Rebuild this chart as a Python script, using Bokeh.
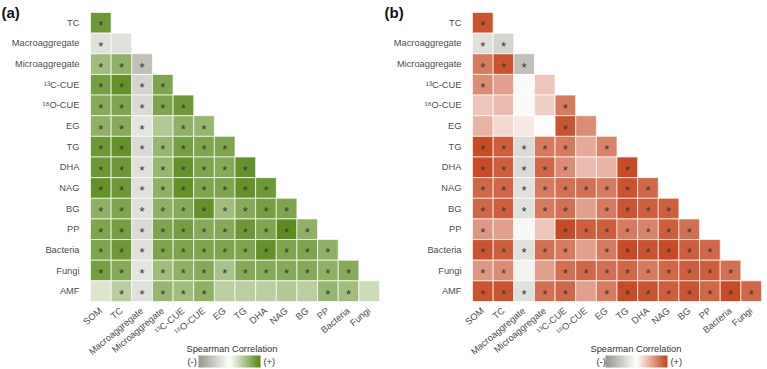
import math
from bokeh.plotting import figure
from bokeh.models import (ColumnDataSource, LinearColorMapper, ColorBar,
                          FactorRange, FixedTicker)
from bokeh.layouts import row
from bokeh.embed import file_html
from bokeh.resources import INLINE
from bokeh.core.properties import value

# ---------------- data ----------------
row_labels = ["TC", "Macroaggregate", "Microaggregate", "¹³C-CUE", "¹⁸O-CUE", "EG", "TG",
              "DHA", "NAG", "BG", "PP", "Bacteria", "Fungi", "AMF"]
col_labels = ["SOM", "TC", "Macroaggregate", "Microaggregate", "¹³C-CUE", "¹⁸O-CUE", "EG",
              "TG", "DHA", "NAG", "BG", "PP", "Bacteria", "Fungi"]

# panel (a): lower-triangle Spearman correlations (row i has i+1 values)
corr_a = [
    [0.85],
    [-0.3, -0.3],
    [0.55, 0.65, -0.6],
    [0.8, 0.9, -0.4, 0.75],
    [0.7, 0.75, -0.35, 0.75, 0.85],
    [0.65, 0.7, -0.25, 0.45, 0.65, 0.6],
    [0.85, 0.9, -0.35, 0.6, 0.8, 0.75, 0.75],
    [0.85, 0.85, -0.3, 0.6, 0.9, 0.75, 0.7, 0.9],
    [0.9, 0.85, -0.3, 0.65, 0.9, 0.75, 0.75, 0.9, 0.85],
    [0.65, 0.75, -0.3, 0.65, 0.7, 0.9, 0.55, 0.7, 0.8, 0.75],
    [0.75, 0.8, -0.35, 0.75, 0.8, 0.7, 0.7, 0.85, 0.75, 0.95, 0.65],
    [0.75, 0.85, -0.3, 0.75, 0.75, 0.75, 0.75, 0.75, 0.9, 0.75, 0.75, 0.65],
    [0.8, 0.7, -0.25, 0.55, 0.65, 0.7, 0.5, 0.7, 0.7, 0.7, 0.7, 0.65, 0.7],
    [0.2, 0.4, -0.3, 0.6, 0.55, 0.65, 0.4, 0.4, 0.4, 0.45, 0.4, 0.6, 0.55, 0.3],
]
sig_a = [
    [1],
    [1, 0],
    [1, 1, 1],
    [1, 1, 1, 1],
    [1, 1, 1, 1, 1],
    [1, 1, 1, 0, 1, 1],
    [1, 1, 1, 1, 1, 1, 1],
    [1, 1, 1, 1, 1, 1, 1, 1],
    [1, 1, 1, 1, 1, 1, 1, 1, 1],
    [1, 1, 1, 1, 1, 1, 1, 1, 1, 1],
    [1, 1, 1, 1, 1, 1, 1, 1, 1, 1, 1],
    [1, 1, 1, 1, 1, 1, 1, 1, 1, 1, 1, 1],
    [1, 1, 1, 1, 1, 1, 1, 1, 1, 1, 1, 1, 1],
    [0, 1, 1, 1, 1, 1, 0, 0, 0, 0, 0, 1, 1, 0],
]

# panel (b)
corr_b = [
    [0.9],
    [-0.3, -0.4],
    [0.7, 0.9, -0.6],
    [0.6, 0.5, -0.05, 0.3],
    [0.3, 0.35, -0.05, 0.25, 0.7],
    [0.4, 0.2, 0.12, 0.0, 0.9, 0.6],
    [0.95, 0.85, -0.35, 0.7, 0.7, 0.45, 0.65],
    [0.95, 0.85, -0.35, 0.8, 0.6, 0.35, 0.4, 0.95],
    [0.8, 0.8, -0.3, 0.7, 0.75, 0.75, 0.7, 0.9, 0.8],
    [0.8, 0.85, -0.3, 0.7, 0.75, 0.5, 0.7, 0.9, 0.85, 0.85],
    [0.55, 0.5, -0.08, 0.3, 0.95, 0.85, 0.85, 0.7, 0.65, 0.85, 0.75],
    [0.9, 0.85, -0.3, 0.75, 0.7, 0.5, 0.7, 0.95, 0.9, 0.95, 0.85, 0.8],
    [0.55, 0.6, -0.12, 0.5, 0.75, 0.8, 0.75, 0.8, 0.7, 0.8, 0.85, 0.85, 0.75],
    [0.9, 0.9, -0.3, 0.75, 0.8, 0.5, 0.7, 0.95, 0.9, 0.85, 0.9, 0.8, 0.95, 0.8],
]
sig_b = [
    [1],
    [1, 1],
    [1, 1, 1],
    [1, 0, 0, 0],
    [0, 0, 0, 0, 1],
    [0, 0, 0, 0, 1, 0],
    [1, 1, 1, 1, 1, 0, 1],
    [1, 1, 1, 1, 1, 0, 0, 1],
    [1, 1, 1, 1, 1, 1, 1, 1, 1],
    [1, 1, 1, 1, 1, 0, 1, 1, 1, 1],
    [1, 0, 0, 0, 1, 1, 1, 1, 1, 1, 1],
    [1, 1, 1, 1, 1, 0, 1, 1, 1, 1, 1, 1],
    [1, 1, 0, 0, 1, 1, 1, 1, 1, 1, 1, 1, 1],
    [1, 1, 1, 1, 1, 0, 1, 1, 1, 1, 1, 1, 1, 1],
]

legend_title = "Spearman Correlation"
legend_low, legend_high = "(-)", "(+)"

FONT = "Liberation Sans"


def make_palette(neg, pos, n=255):
    out = []
    for i in range(n):
        v = -1 + 2 * i / (n - 1)
        end = neg if v < 0 else pos
        t = abs(v)
        c = [round(255 + (e - 255) * t) for e in end]
        out.append("#%02x%02x%02x" % tuple(c))
    return out


def outside_text(p, text, x, y, size, bold=False, color="#333333"):
    # a 1-px white colour bar whose title carries the text (renders outside the frame)
    blank = LinearColorMapper(palette=["#ffffff"], low=0, high=1)
    cb = ColorBar(color_mapper=blank, orientation="horizontal", width=1, height=1,
                  location=(x, y), padding=0,
                  ticker=FixedTicker(ticks=[]), major_label_text_font_size="0px",
                  major_tick_line_color=None, bar_line_color=None,
                  border_line_color=None, background_fill_alpha=0,
                  title=text, title_standoff=0, title_text_font=FONT,
                  title_text_font_size=size,
                  title_text_font_style="bold" if bold else "normal",
                  title_text_color=color)
    p.add_layout(cb, "center")


def build(corr, sig, pos_color, tag, left_border, right_border, leg):
    xs, ys, vs, sx, sy, st = [], [], [], [], [], []
    for i, r in enumerate(row_labels):
        for j, v in enumerate(corr[i]):
            xs.append(col_labels[j]); ys.append(r); vs.append(v)
            if sig[i][j]:
                sx.append(col_labels[j]); sy.append(r); st.append("*")
    mapper = LinearColorMapper(palette=make_palette((150, 150, 138), pos_color), low=-1, high=1)

    p = figure(x_range=FactorRange(*col_labels), y_range=FactorRange(*reversed(row_labels)),
               frame_width=289, frame_height=289,
               min_border_left=left_border, min_border_right=right_border,
               min_border_top=12, min_border_bottom=68,
               output_backend="svg", toolbar_location=None)
    p.outline_line_color = None
    p.grid.grid_line_color = None

    p.rect(x="x", y="y", width=1, height=1,
           source=ColumnDataSource(dict(x=xs, y=ys, v=vs)),
           fill_color={"field": "v", "transform": mapper},
           line_color="white", line_alpha=0.7, line_width=1)
    p.text(x="x", y="y", text="t", source=ColumnDataSource(dict(x=sx, y=sy, t=st)),
           text_align="center", text_baseline="middle", y_offset=3,
           text_font=value(FONT), text_font_size="13px", text_color="#383838")

    for ax in (p.xaxis, p.yaxis):
        ax.axis_line_color = None
        ax.major_tick_line_color = None
        ax.minor_tick_line_color = None
        ax.major_label_text_font = FONT
        ax.major_label_text_font_size = "9.3px"
        ax.major_label_text_color = "#4d4d4d"
    p.yaxis.major_label_standoff = 5
    p.xaxis.major_label_standoff = 2
    p.xaxis.major_label_orientation = math.radians(40)

    bar_x, title_x, minus_x, plus_x = leg
    cb = ColorBar(color_mapper=mapper, orientation="horizontal", width=62, height=12,
                  location=(bar_x, -66), padding=0, ticker=FixedTicker(ticks=[]),
                  major_label_text_font_size="0px", major_tick_line_color=None,
                  bar_line_color=None, border_line_color=None,
                  background_fill_alpha=0)
    p.add_layout(cb, "center")

    outside_text(p, tag, -left_border + 1, 280, "15px", bold=True, color="#111111")
    outside_text(p, legend_title, title_x, -53, "9.3px")
    outside_text(p, legend_low, minus_x, -66, "9.3px")
    outside_text(p, legend_high, plus_x, -66, "9.3px")
    return p


pa = build(corr_a, sig_a, (84, 134, 20), "(a)", 90, 4, (108, 96, 97, 173))
pb = build(corr_b, sig_b, (196, 66, 28), "(b)", 89, 6, (133, 118, 124, 198))

layout = row(pa, pb)
open("out.html", "w").write(file_html(layout, INLINE))
